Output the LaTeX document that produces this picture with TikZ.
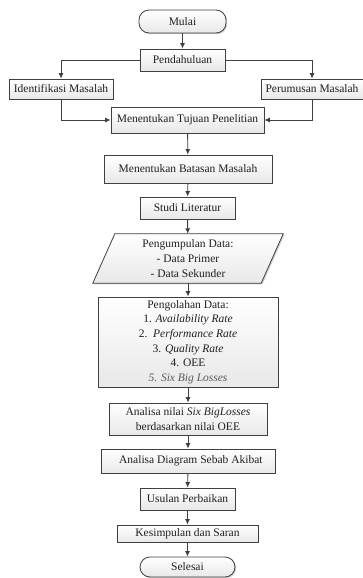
\documentclass[tikz,border=0pt]{standalone}
\usepackage{fontspec}
\setmainfont{Liberation Serif}
\usetikzlibrary{arrows.meta,shadows,positioning}
\definecolor{lin}{HTML}{404040}
\definecolor{txt}{HTML}{202020}
\tikzset{
  boxstyle/.style={draw=lin, line width=0.8pt, top color=white, bottom color=gray!18,
    drop shadow={shadow xshift=1.2pt, shadow yshift=-1.2pt, fill=gray!55, opacity=0.7},
    text=txt, font=\fontsize{11.5}{14.7}\selectfont, align=center, inner sep=0pt},
  procbox/.style={boxstyle, rectangle},
  termbox/.style={boxstyle, rounded corners=10pt},
  conn/.style={draw=lin, line width=0.9pt, -{Latex[length=5.5pt,width=5pt]}},
  x=1pt, y=-1pt
}
\begin{document}
\begin{tikzpicture}
\useasboundingbox (0,0) rectangle (363,578);
\node[termbox, minimum width=87pt, minimum height=23pt] (mulai) at (182.5,21.5) {Mulai};
\node[procbox, minimum width=85pt, minimum height=22pt] (pend) at (182.5,60) {Pendahuluan};
\node[procbox, minimum width=104pt, minimum height=20pt] (iden) at (61,89) {Identifikasi Masalah};
\node[procbox, minimum width=102pt, minimum height=20pt] (peru) at (312,89) {Perumusan Masalah};
\node[procbox, minimum width=153pt, minimum height=26pt] (tuju) at (187.5,120) {Menentukan Tujuan Penelitian};
\node[procbox, minimum width=168pt, minimum height=28pt] (bata) at (188,169) {Menentukan Batasan Masalah};
\node[procbox, minimum width=95pt, minimum height=22pt] (studi) at (187.5,208) {Studi Literatur};
\node[minimum width=190pt, minimum height=49pt, inner sep=0pt] (pengum) at (188,258.5) {};
\draw[boxstyle] ([xshift=22pt]pengum.north west) -- (pengum.north east) -- ([xshift=-22pt]pengum.south east) -- (pengum.south west) -- cycle;
\node[text=txt, font=\fontsize{11.5}{14.7}\selectfont, align=center] at (pengum.center) {Pengumpulan Data:\\- Data Primer\\- Data Sekunder};
\node[procbox, minimum width=180pt, minimum height=90pt] (pengol) at (188,342)
  {Pengolahan Data:\\1. \textit{Availability Rate}\\2.\ \ \textit{Performance Rate}\\3. \textit{Quality Rate}\\4. OEE\\\textcolor{gray!70!black}{\textit{5. Six Big Losses}}};
\node[procbox, minimum width=158pt, minimum height=32pt] (anal) at (188,419) {Analisa nilai \textit{Six BigLosses}\\berdasarkan nilai OEE};
\node[procbox, minimum width=174pt, minimum height=24pt] (diag) at (188,461) {\ \ Analisa Diagram Sebab Akibat};
\node[procbox, minimum width=95pt, minimum height=22pt] (usul) at (187.5,499) {Usulan Perbaikan};
\node[procbox, minimum width=141pt, minimum height=17pt] (kesim) at (187.5,533.5) {Kesimpulan dan Saran};
\node[termbox, minimum width=95pt, minimum height=20pt] (seles) at (187.5,567) {Selesai};
\draw[conn] (mulai) -- (pend);
\draw[conn] (pend.west) -| (iden.north);
\draw[conn] (pend.east) -| (peru.north);
\draw[conn] (iden.south) |- (tuju.west);
\draw[conn] (peru.south) |- (tuju.east);
\draw[conn] (tuju) -- (bata);
\draw[conn] (bata) -- (studi);
\draw[conn] (studi) -- (pengum);
\draw[conn] (pengum) -- (pengol);
\draw[conn] (pengol) -- (anal);
\draw[conn] (anal) -- (diag);
\draw[conn] (diag) -- (usul);
\draw[conn] (usul) -- (kesim);
\draw[conn] (kesim) -- (seles);
\end{tikzpicture}
\end{document}
